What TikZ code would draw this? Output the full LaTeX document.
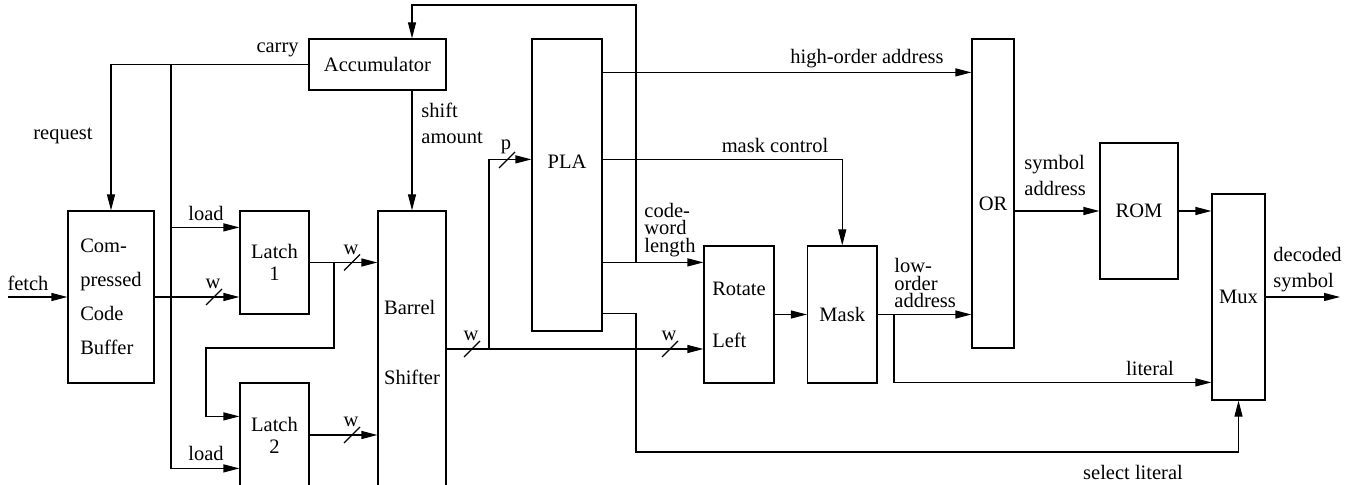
\documentclass[tikz,border=0pt]{standalone}
\usepackage{fontspec}
\setmainfont{Liberation Serif}
\usetikzlibrary{arrows.meta}
\newcommand{\busmark}[4]{\draw[wire] (#1,#2) ++(-8,8) -- ++(16,-16);\node[lbl] (#3) at (#1-1,#2-13) {#4};}
\tikzset{blk/.style={draw, line width=0.6pt, inner sep=0pt}}
\tikzset{wire/.style={line width=0.6pt}}
\tikzset{lbl/.style={inner sep=0pt}}
\tikzset{dsarrow/.style={wire, -{Triangle[length=8pt,width=4pt]}}}

\begin{document}
\begin{tikzpicture}[x=0.5pt, y=-0.5pt, font=\fontsize{10.25}{13}\selectfont]
\useasboundingbox (0,0) rectangle (1352,485);
\clip (0,0) rectangle (1352,485);
\node[blk, minimum width=68.5pt, minimum height=25.5pt] (acc) at (377.5,64.5) {Accumulator};
\node[blk, minimum width=43pt, minimum height=86pt, align=left, font=\fontsize{10.25}{17}\selectfont] (ccb) at (111,297) {Com-\\pressed\\Code\\Buffer};
\node[blk, minimum width=34.5pt, minimum height=51.5pt, align=center, font=\fontsize{10.25}{11}\selectfont] (latcha) at (274.5,262.5) {Latch\\1};
\node[blk, minimum width=34.5pt, minimum height=52pt, align=center, font=\fontsize{10.25}{11}\selectfont] (latchb) at (274.5,435) {Latch\\2};
\node[blk, minimum width=34pt, minimum height=138pt] (barrel) at (412,349) {};
\node[lbl, align=left, font=\fontsize{10.25}{35}\selectfont] (barreltxt) at (412,342) {Barrel\\Shifter};
\node[blk, minimum width=35pt, minimum height=146pt] (pla) at (567,185) {};
\node[lbl] (platxt) at (567,162) {PLA};
\node[blk, minimum width=35pt, minimum height=68.5pt, align=left, font=\fontsize{10.25}{26}\selectfont] (rot) at (739,314.5) {Rotate\\Left};
\node[blk, minimum width=34.75pt, minimum height=68.5pt] (mask) at (842.25,314.5) {Mask};
\node[blk, minimum width=21pt, minimum height=154.5pt] (orb) at (993,193.5) {};
\node[lbl] (ortxt) at (993,204) {OR};
\node[blk, minimum width=39pt, minimum height=68pt] (rom) at (1139,211) {ROM};
\node[blk, minimum width=26.5pt, minimum height=103pt] (mux) at (1238.5,297) {Mux};

\coordinate (fetchin) at (8,297);
\draw[dsarrow] (fetchin) -- (ccb.west);
\node[lbl] (fetchlbl) at (28,283) {fetch};
\draw[dsarrow] (acc.west) -| (ccb.north);
\node[lbl, anchor=east] (carrylbl) at (299,50) {carry};
\node[lbl] (reqlbl) at (63,136) {request};
\coordinate (ldj) at (171,64.5);
\draw[dsarrow] (ldj) |- ([yshift=-8.5pt]latcha.north west);
\draw[dsarrow] (ldj) |- ([yshift=-43pt]latchb.north west);
\node[lbl] (loadalbl) at (206,213) {load};
\node[lbl] (loadblbl) at (206,453) {load};
\draw[dsarrow] (ccb.east) -- (ccb.east -| latcha.west);
\busmark{214}{297}{wa}{w}
\draw[dsarrow] (latcha.east) -- (latcha.east -| barrel.west);
\busmark{352}{262.5}{wb}{w}
\coordinate (lbr) at (334,262.5);
\coordinate (lbend) at (206,348);
\draw[dsarrow] (lbr) |- (lbend) |- ([yshift=-17pt]latchb.north west);
\draw[dsarrow] (latchb.east) -- (latchb.east -| barrel.west);
\busmark{352}{435}{wc}{w}
\draw[dsarrow] (acc.south -| barrel.north) -- (barrel.north);
\node[lbl, anchor=west, align=left] (shiftlbl) at (421,123) {shift\\amount};
\coordinate (cwj) at (636,263);
\coordinate (topr) at (636,5);
\draw[dsarrow] (cwj) -- (topr) -| (acc.north -| barrel.north);

\draw[dsarrow] (barrel.east) -- (barrel.east -| rot.west);
\busmark{472}{349}{wd}{w}
\busmark{670}{349}{we}{w}
\coordinate (plaj) at (489,349);
\draw[dsarrow] (plaj) |- ([yshift=-60.5pt]pla.north west);
\busmark{507}{160}{pa}{p}
\coordinate (hoa) at ([yshift=-17pt]pla.north east);
\draw[dsarrow] (hoa) -- (hoa -| orb.west);
\node[lbl] (hoalbl) at (867,59) {high-order address};
\coordinate (mcs) at ([yshift=-60.5pt]pla.north east);
\draw[dsarrow] (mcs) -| (mask.north);
\node[lbl] (mclbl) at (775,145) {mask control};
\coordinate (cwl) at ([yshift=-112pt]pla.north east);
\draw[dsarrow] (cwl) -- (cwl -| rot.west);
\node[lbl, anchor=west, align=left, font=\fontsize{10.25}{8.75}\selectfont] (cwlbl) at (644,230) {code-\\word\\length};
\coordinate (sls) at ([yshift=-137.5pt]pla.north east);
\coordinate (slb) at (636,452);
\draw[dsarrow] (sls) -| (slb) -| (mux.south);
\node[lbl] (sllbl) at (1133,472) {select literal};

\draw[dsarrow] (rot.east) -- (mask.west);
\draw[dsarrow] (mask.east) -- (mask.east -| orb.west);
\node[lbl, anchor=west, align=left, font=\fontsize{10.25}{8.75}\selectfont] (lolbl) at (894,283) {low-\\order\\address};
\coordinate (litj) at (894,314.5);
\draw[dsarrow] (litj) |- ([yshift=-94.5pt]mux.north west);
\node[lbl] (litlbl) at (1150,368) {literal};
\draw[dsarrow] (rom.west -| orb.east) -- (rom.west);
\node[lbl, anchor=west, align=left] (salbl) at (1024,175) {symbol\\address};
\draw[dsarrow] (rom.east) -- (rom.east -| mux.west);
\coordinate (decout) at (1340,297);
\draw[dsarrow] (mux.east) -- (decout);
\node[lbl, anchor=west, align=left] (declbl) at (1273,270) {decoded\\symbol};
\end{tikzpicture}
\end{document}
